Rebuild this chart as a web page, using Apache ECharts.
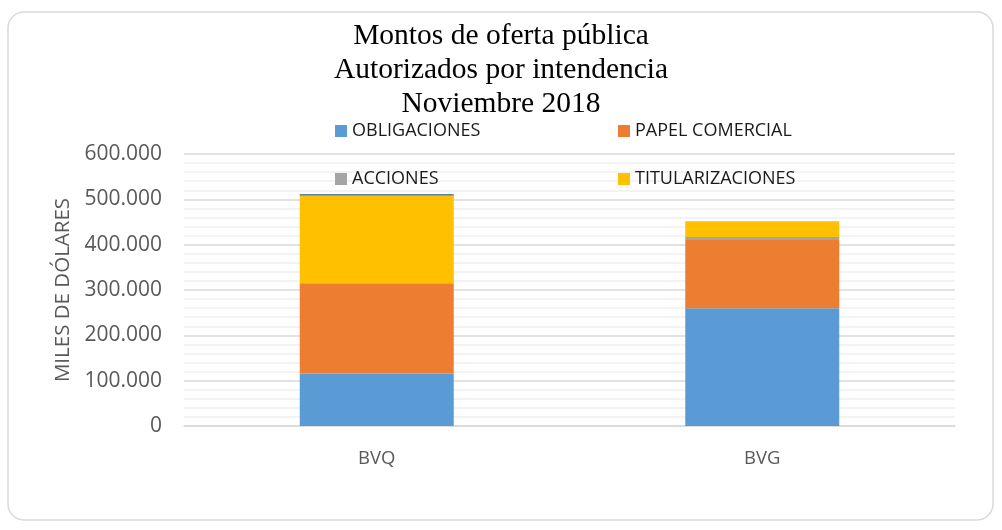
<!DOCTYPE html>
<html>
<head>
<meta charset="utf-8">
<script src="https://cdn.jsdelivr.net/npm/echarts@6/dist/echarts.min.js"></script>
<style>
  html, body { margin: 0; padding: 0; background: #fff; }
  #chart { width: 1002px; height: 530px; }
</style>
</head>
<body>
<div id="chart"></div>
<script>
// datos (miles de dolares)
const categorias = ['BVQ', 'BVG'];
const obligaciones = [116000, 259600];
const papelComercial = [199000, 150700];
const acciones = [0, 6600];
const titularizaciones = [193500, 34600];
const otros = [2600, 0];   // linea fina azul oscuro sobre BVQ, sin leyenda

const sans = 'Open Sans';
const fmt = v => String(v).replace(/\B(?=(\d{3})+(?!\d))/g, '.');

function leyenda(nombre, left, top) {
    return {
        data: [nombre],
        left: left, top: top,
        padding: 0,
        itemWidth: 12, itemHeight: 12,
        icon: 'rect',
        selectedMode: false,
        textStyle: { fontFamily: sans, fontSize: 18, color: '#1a1a1a' }
    };
}

function barra(nombre, datos, color) {
    return {
        name: nombre,
        type: 'bar',
        stack: 'total',
        barWidth: 154,
        data: datos,
        itemStyle: { color: color }
    };
}

const chart = echarts.init(document.getElementById('chart'));
chart.setOption({
    animation: false,
    backgroundColor: '#fff',
    title: {
        text: 'Montos de oferta pública\nAutorizados por intendencia\nNoviembre 2018',
        left: 'center',
        top: 19,
        padding: 0,
        textStyle: {
            fontFamily: 'Liberation Serif',
            fontWeight: 'normal',
            fontSize: 29.5,
            lineHeight: 34,
            color: '#000'
        }
    },
    legend: [
        leyenda('OBLIGACIONES', 335, 122),
        leyenda('PAPEL COMERCIAL', 618, 122),
        leyenda('ACCIONES', 335, 170),
        leyenda('TITULARIZACIONES', 618, 170)
    ],
    graphic: [{
        type: 'rect',
        shape: { x: 8, y: 12, width: 985, height: 508, r: 16 },
        style: { fill: 'none', stroke: '#D9D9D9', lineWidth: 1.5 },
        z: -1
    }],
    grid: { left: 184, right: 47, top: 154, bottom: 104 },
    xAxis: {
        type: 'category',
        data: categorias,
        axisLine: { lineStyle: { color: '#D9D9D9', width: 1.5 } },
        axisTick: { show: false },
        axisLabel: { fontFamily: sans, fontSize: 18.5, color: '#595959', margin: 23 }
    },
    yAxis: {
        type: 'value',
        min: 0, max: 600000, interval: 100000,
        name: 'MILES DE DÓLARES',
        nameLocation: 'middle',
        nameGap: 110,
        nameTextStyle: { fontFamily: sans, fontSize: 20.5, color: '#595959' },
        axisLabel: { fontFamily: sans, fontSize: 21, color: '#595959', margin: 22, formatter: fmt },
        axisLine: { show: false },
        axisTick: { show: false },
        splitLine: { lineStyle: { color: '#D9D9D9', width: 1.5 } },
        minorTick: { show: false, splitNumber: 5 },
        minorSplitLine: { show: true, lineStyle: { color: '#F0F0F0', width: 1.5 } }
    },
    series: [
        barra('OBLIGACIONES', obligaciones, '#5B9BD5'),
        barra('PAPEL COMERCIAL', papelComercial, '#ED7D31'),
        barra('ACCIONES', acciones, '#A5A5A5'),
        barra('TITULARIZACIONES', titularizaciones, '#FFC000'),
        barra('OTROS', otros, '#255E91')
    ]
});
</script>
</body>
</html>
